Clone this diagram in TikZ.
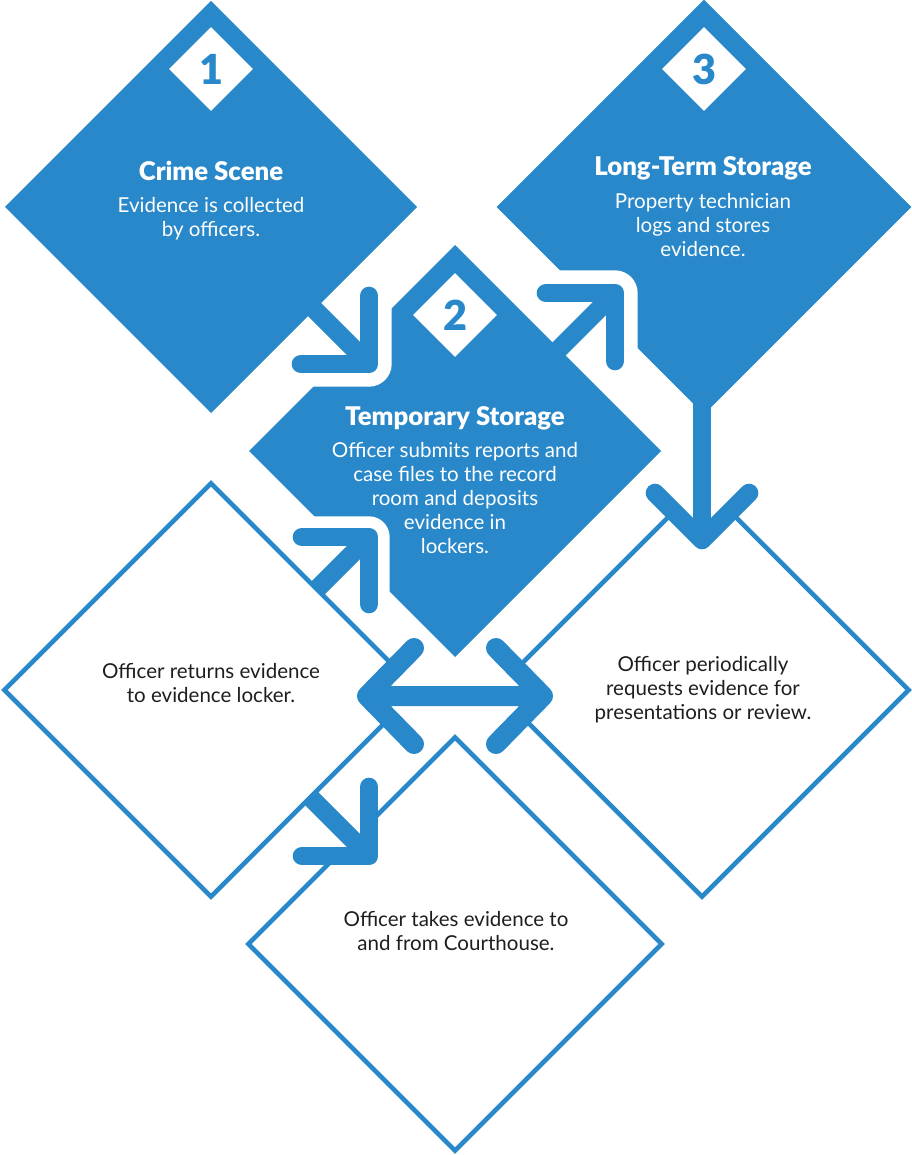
\documentclass[tikz,border=0pt]{standalone}
\usepackage{fontspec}
\setmainfont{Lato}
\newfontfamily\heavy{Lato Black}
\usetikzlibrary{shapes.geometric}
\definecolor{blu}{HTML}{2888C9}
\definecolor{ink}{HTML}{1E1E1E}
\begin{document}
\begin{tikzpicture}[x=0.75pt, y=-0.75pt,
  filld/.style={diamond, fill=blu, inner sep=0pt, outer sep=0pt, minimum width=#1, minimum height=#1},
  outd/.style={diamond, draw=blu, line width=3.4pt, inner sep=0pt, outer sep=0pt, minimum width=#1, minimum height=#1},
  badge/.style={diamond, fill=white, inner sep=0pt, minimum width=63pt, minimum height=63pt, text=blu, font=\heavy\fontsize{31}{31}\selectfont},
  halo/.style={white, line width=#1, line cap=round, line join=round},
  halo/.default=34pt,
  arr/.style={blu, line width=14pt, line cap=round, line join=round},
  shaft/.style={blu, line width=14pt, line cap=butt},
  ttl/.style={text=white, font=\heavy\fontsize{19.3}{20}\selectfont, inner sep=0pt},
  bodyw/.style={text=white, align=center, font=\fontsize{15.4}{18}\selectfont, inner sep=0pt},
  bodyk/.style={text=ink, align=center, font=\fontsize{15.4}{18}\selectfont, inner sep=0pt}]
\useasboundingbox (0,0) rectangle (912,1155);
% filled diamonds
\node[filld=309pt] (cs) at (211,207) {};
\node[filld=311pt] (lt) at (704,207) {};
\node[filld=309pt] (ts) at (455,451) {};
% outline diamonds
\node[outd=310pt] (ret) at (211,690) {};
\node[outd=310pt] (per) at (702,690) {};
\node[outd=310pt] (tak) at (455,944) {};
% arrow coordinates
\coordinate (a1s) at (305,300); \coordinate (a1m) at (340,335); \coordinate (a1c) at (369,364);
\coordinate (a1h) at (301,364); \coordinate (a1v) at (369,296);
\coordinate (a2s) at (540,368); \coordinate (a2m) at (580,328); \coordinate (a2c) at (615,293);
\coordinate (a2h) at (546,293); \coordinate (a2v) at (615,361);
\coordinate (a3s) at (702,400); \coordinate (a3c) at (702,540);
\coordinate (a3l) at (655,493); \coordinate (a3r) at (749,493);
\coordinate (a4s) at (317,589); \coordinate (a4m) at (345,561); \coordinate (a4c) at (369,537);
\coordinate (a4h) at (302,537); \coordinate (a4v) at (369,604);
\coordinate (a5s) at (311.5,798.5); \coordinate (a5c) at (369,856);
\coordinate (a5h) at (302,856); \coordinate (a5v) at (369,787);
\coordinate (dl) at (367,696); \coordinate (dr) at (543,696);
\coordinate (dlu) at (414,648); \coordinate (dld) at (414,744);
\coordinate (dru) at (496,648); \coordinate (drd) at (496,744);
% halos and cleared arrow interiors
\draw[halo] (a1m) -- (a1c) (a1h) -- (a1c) -- (a1v);
\draw[halo] (a2m) -- (a2c) (a2h) -- (a2c) -- (a2v);
\draw[halo=31pt] (a4m) -- (a4c) (a4h) -- (a4c) -- (a4v);
\fill[white] (a3c) -- (a3l) -- (655,474) -- (749,474) -- (a3r) -- cycle;
\fill[white] (a5h) -- (a5c) -- (a5v) -- cycle;
\fill[white] (dl) -- (dlu) -- (430,648) -- (430,744) -- (dld) -- cycle;
\fill[white] (dr) -- (dru) -- (480,648) -- (480,744) -- (drd) -- cycle;
% arrows
\draw[shaft] (a1s) -- (a1c); \draw[arr] (a1h) -- (a1c) -- (a1v);
\draw[shaft] (a2s) -- (a2c); \draw[arr] (a2h) -- (a2c) -- (a2v);
\draw[shaft] (a3s) -- (a3c); \draw[arr] (a3l) -- (a3c) -- (a3r);
\draw[shaft] (a4s) -- (a4c); \draw[arr] (a4h) -- (a4c) -- (a4v);
\draw[shaft] (a5s) -- (a5c); \draw[arr] (a5h) -- (a5c) -- (a5v);
\draw[arr, line width=15pt] (dl) -- (dr) (dlu) -- (dl) -- (dld) (dru) -- (dr) -- (drd);
% badges
\node[badge] (b1) at (211,69) {1};
\node[badge] (b2) at (455,315) {2};
\node[badge] (b3) at (704,69) {3};
% texts
\node[ttl] (t1) at (211,171) {Crime Scene};
\node[bodyw] (d1) at (211,219) {Evidence is collected\\by officers.};
\node[ttl] (t3) at (703,168) {Long-Term Storage};
\node[bodyw] (d3) at (703,225) {Property technician\\logs and stores\\evidence.};
\node[ttl] (t2) at (455,418) {Temporary Storage};
\node[bodyw] (d2) at (455,498) {Officer submits reports and\\case files to the record\\room and deposits\\evidence in\\lockers.};
\node[bodyk] (d4) at (211,683) {Officer returns evidence\\to evidence locker.};
\node[bodyk] (d5) at (703,690) {Officer periodically\\requests evidence for\\presentations or review.};
\node[bodyk] (d6) at (456,931) {Officer takes evidence to\\and from Courthouse.};
\end{tikzpicture}
\end{document}
